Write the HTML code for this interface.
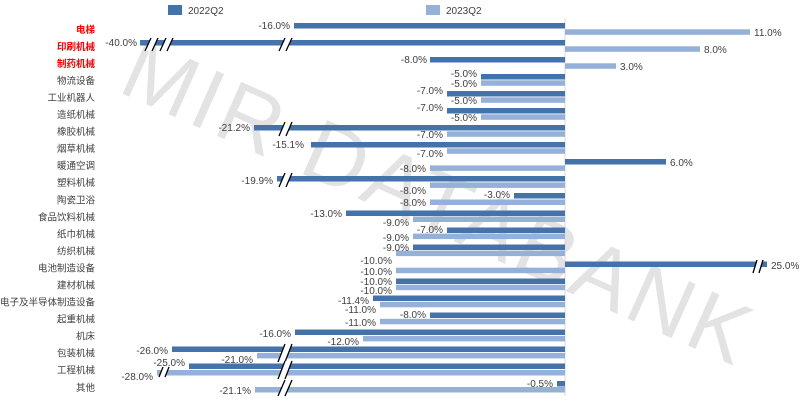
<!DOCTYPE html>
<html><head><meta charset="utf-8"><style>
html,body{margin:0;padding:0;background:#fff}
svg{display:block}
text{font-family:"Liberation Sans","Noto Sans CJK SC",sans-serif;font-size:10px;fill:#404040}
.c{text-anchor:end;font-size:9.5px}
.r{fill:#ff0000;font-weight:bold}
.e{text-anchor:end}
</style></head><body>
<svg width="801" height="403" viewBox="0 0 801 403" xmlns="http://www.w3.org/2000/svg">
<text x="440" y="232" transform="rotate(24 440 200)" text-anchor="middle" style="font-size:86px;fill:#e3e3e3;letter-spacing:4px">MIR DATABANK</text>
<rect x="168" y="5" width="14" height="10" fill="#4472aa"/><text x="188" y="14">2022Q2</text>
<rect x="426" y="5" width="14" height="10" fill="#95b0d9"/><text x="446" y="14">2023Q2</text>
<line x1="565" y1="18" x2="565" y2="396" stroke="#d9d9d9"/>
<g fill="#4472aa">
<rect x="294" y="23" width="271" height="5.5"/>
<rect x="140" y="40" width="425" height="5.5"/>
<rect x="430" y="57" width="135" height="5.5"/>
<rect x="481" y="74" width="84" height="5.5"/>
<rect x="447" y="91" width="118" height="5.5"/>
<rect x="447" y="108" width="118" height="5.5"/>
<rect x="254" y="125" width="311" height="5.5"/>
<rect x="311" y="142" width="254" height="5.5"/>
<rect x="565" y="159" width="101" height="5.5"/>
<rect x="277" y="176" width="288" height="5.5"/>
<rect x="514" y="193" width="51" height="5.5"/>
<rect x="346" y="210.5" width="219" height="5.5"/>
<rect x="447" y="227.5" width="118" height="5.5"/>
<rect x="413" y="244.5" width="152" height="5.5"/>
<rect x="565" y="261.5" width="202" height="5.5"/>
<rect x="396" y="278.5" width="169" height="5.5"/>
<rect x="373" y="295.5" width="192" height="5.5"/>
<rect x="430" y="312.5" width="135" height="5.5"/>
<rect x="295" y="329.5" width="270" height="5.5"/>
<rect x="172" y="346.5" width="393" height="5.5"/>
<rect x="189" y="363.5" width="376" height="5.5"/>
<rect x="557" y="381" width="8" height="5.5"/>
</g>
<g fill="#95b0d9">
<rect x="565" y="29.3" width="185" height="5.5"/>
<rect x="565" y="46.3" width="135" height="5.5"/>
<rect x="565" y="63.3" width="51" height="5.5"/>
<rect x="481" y="80.3" width="84" height="5.5"/>
<rect x="481" y="97.3" width="84" height="5.5"/>
<rect x="481" y="114.3" width="84" height="5.5"/>
<rect x="447" y="131.3" width="118" height="5.5"/>
<rect x="447" y="148.3" width="118" height="5.5"/>
<rect x="430" y="165.4" width="135" height="5.5"/>
<rect x="430" y="182.4" width="135" height="5.5"/>
<rect x="430" y="199.5" width="135" height="5.5"/>
<rect x="413" y="216.5" width="152" height="5.5"/>
<rect x="413" y="233.6" width="152" height="5.5"/>
<rect x="396" y="250.6" width="169" height="5.5"/>
<rect x="396" y="267.7" width="169" height="5.5"/>
<rect x="396" y="284.7" width="169" height="5.5"/>
<rect x="380" y="301.8" width="185" height="5.5"/>
<rect x="380" y="318.8" width="185" height="5.5"/>
<rect x="363" y="335.9" width="202" height="5.5"/>
<rect x="257" y="352.9" width="308" height="5.5"/>
<rect x="157" y="370" width="408" height="5.5"/>
<rect x="255" y="387" width="310" height="5.5"/>
</g>
<g stroke="#000" stroke-width="1.3">
<polygon points="145,51 151,38 158,38 152,51" fill="#fff" stroke="none"/><line x1="145" y1="51" x2="151" y2="38"/><line x1="152" y1="51" x2="158" y2="38"/>
<polygon points="160,51 166,38 173,38 167,51" fill="#fff" stroke="none"/><line x1="160" y1="51" x2="166" y2="38"/><line x1="167" y1="51" x2="173" y2="38"/>
<polygon points="279,51 285,38 292,38 286,51" fill="#fff" stroke="none"/><line x1="279" y1="51" x2="285" y2="38"/><line x1="286" y1="51" x2="292" y2="38"/>
<polygon points="279,136 285,122 292,122 286,136" fill="#fff" stroke="none"/><line x1="279" y1="136" x2="285" y2="122"/><line x1="286" y1="136" x2="292" y2="122"/>
<polygon points="279,187 285,173 292,173 286,187" fill="#fff" stroke="none"/><line x1="279" y1="187" x2="285" y2="173"/><line x1="286" y1="187" x2="292" y2="173"/>
<polygon points="278,362 285,344 292,344 285,362" fill="#fff" stroke="none"/><line x1="278" y1="362" x2="285" y2="344"/><line x1="285" y1="362" x2="292" y2="344"/>
<polygon points="278,379 285,361 292,361 285,379" fill="#fff" stroke="none"/><line x1="278" y1="379" x2="285" y2="361"/><line x1="285" y1="379" x2="292" y2="361"/>
<polygon points="278,396 285,380 292,380 285,396" fill="#fff" stroke="none"/><line x1="278" y1="396" x2="285" y2="380"/><line x1="285" y1="396" x2="292" y2="380"/>
<polygon points="159,377 163,367 169,367 165,377" fill="#fff" stroke="none"/><line x1="159" y1="377" x2="163" y2="367"/><line x1="165" y1="377" x2="169" y2="367"/>
<polygon points="753,273 757,260 763,260 759,273" fill="#fff" stroke="none"/><line x1="753" y1="273" x2="757" y2="260"/><line x1="759" y1="273" x2="763" y2="260"/>
</g>
<g>
<text class="c r" x="95" y="33">电梯</text>
<text class="c r" x="95" y="50">印刷机械</text>
<text class="c r" x="95" y="67">制药机械</text>
<text class="c" x="95" y="84">物流设备</text>
<text class="c" x="95" y="101">工业机器人</text>
<text class="c" x="95" y="118">造纸机械</text>
<text class="c" x="95" y="135">橡胶机械</text>
<text class="c" x="95" y="152">烟草机械</text>
<text class="c" x="95" y="169">暖通空调</text>
<text class="c" x="95" y="186">塑料机械</text>
<text class="c" x="95" y="203.5">陶瓷卫浴</text>
<text class="c" x="95" y="220.5">食品饮料机械</text>
<text class="c" x="95" y="237.5">纸巾机械</text>
<text class="c" x="95" y="254.5">纺织机械</text>
<text class="c" x="95" y="271.5">电池制造设备</text>
<text class="c" x="95" y="288.5">建材机械</text>
<text class="c" x="95" y="305.5">电子及半导体制造设备</text>
<text class="c" x="95" y="322.5">起重机械</text>
<text class="c" x="95" y="339.5">机床</text>
<text class="c" x="95" y="356.5">包装机械</text>
<text class="c" x="95" y="373.5">工程机械</text>
<text class="c" x="95" y="391">其他</text>
</g>
<g>
<text class="e" x="290" y="29">-16.0%</text><text x="754" y="36">11.0%</text>
<text class="e" x="137" y="46">-40.0%</text><text x="704" y="53">8.0%</text>
<text class="e" x="427" y="63">-8.0%</text><text x="620" y="70">3.0%</text>
<text class="e" x="477" y="77">-5.0%</text><text class="e" x="477" y="87">-5.0%</text>
<text class="e" x="443" y="94">-7.0%</text><text class="e" x="477" y="104">-5.0%</text>
<text class="e" x="443" y="111">-7.0%</text><text class="e" x="477" y="121">-5.0%</text>
<text class="e" x="250" y="131">-21.2%</text><text class="e" x="443" y="138">-7.0%</text>
<text class="e" x="304" y="148">-15.1%</text><text class="e" x="443" y="157">-7.0%</text>
<text x="670" y="166">6.0%</text><text class="e" x="426" y="172">-8.0%</text>
<text class="e" x="273" y="184">-19.9%</text><text class="e" x="426" y="194">-8.0%</text>
<text class="e" x="510" y="198">-3.0%</text><text class="e" x="426" y="206">-8.0%</text>
<text class="e" x="342" y="217">-13.0%</text><text class="e" x="409" y="226">-9.0%</text>
<text class="e" x="443" y="233">-7.0%</text><text class="e" x="409" y="241">-9.0%</text>
<text class="e" x="409" y="251">-9.0%</text><text class="e" x="392" y="264">-10.0%</text>
<text x="771" y="269">25.0%</text><text class="e" x="392" y="275">-10.0%</text>
<text class="e" x="392" y="285">-10.0%</text><text class="e" x="392" y="294">-10.0%</text>
<text class="e" x="369" y="304">-11.4%</text><text class="e" x="376" y="313">-11.0%</text>
<text class="e" x="426" y="318">-8.0%</text><text class="e" x="376" y="326">-11.0%</text>
<text class="e" x="291" y="337">-16.0%</text><text class="e" x="359" y="345">-12.0%</text>
<text class="e" x="168" y="354">-26.0%</text><text class="e" x="253" y="363">-21.0%</text>
<text class="e" x="185" y="366">-25.0%</text><text class="e" x="153" y="380">-28.0%</text>
<text class="e" x="553" y="387">-0.5%</text><text class="e" x="251" y="394">-21.1%</text>
</g>
</svg>
</body></html>
